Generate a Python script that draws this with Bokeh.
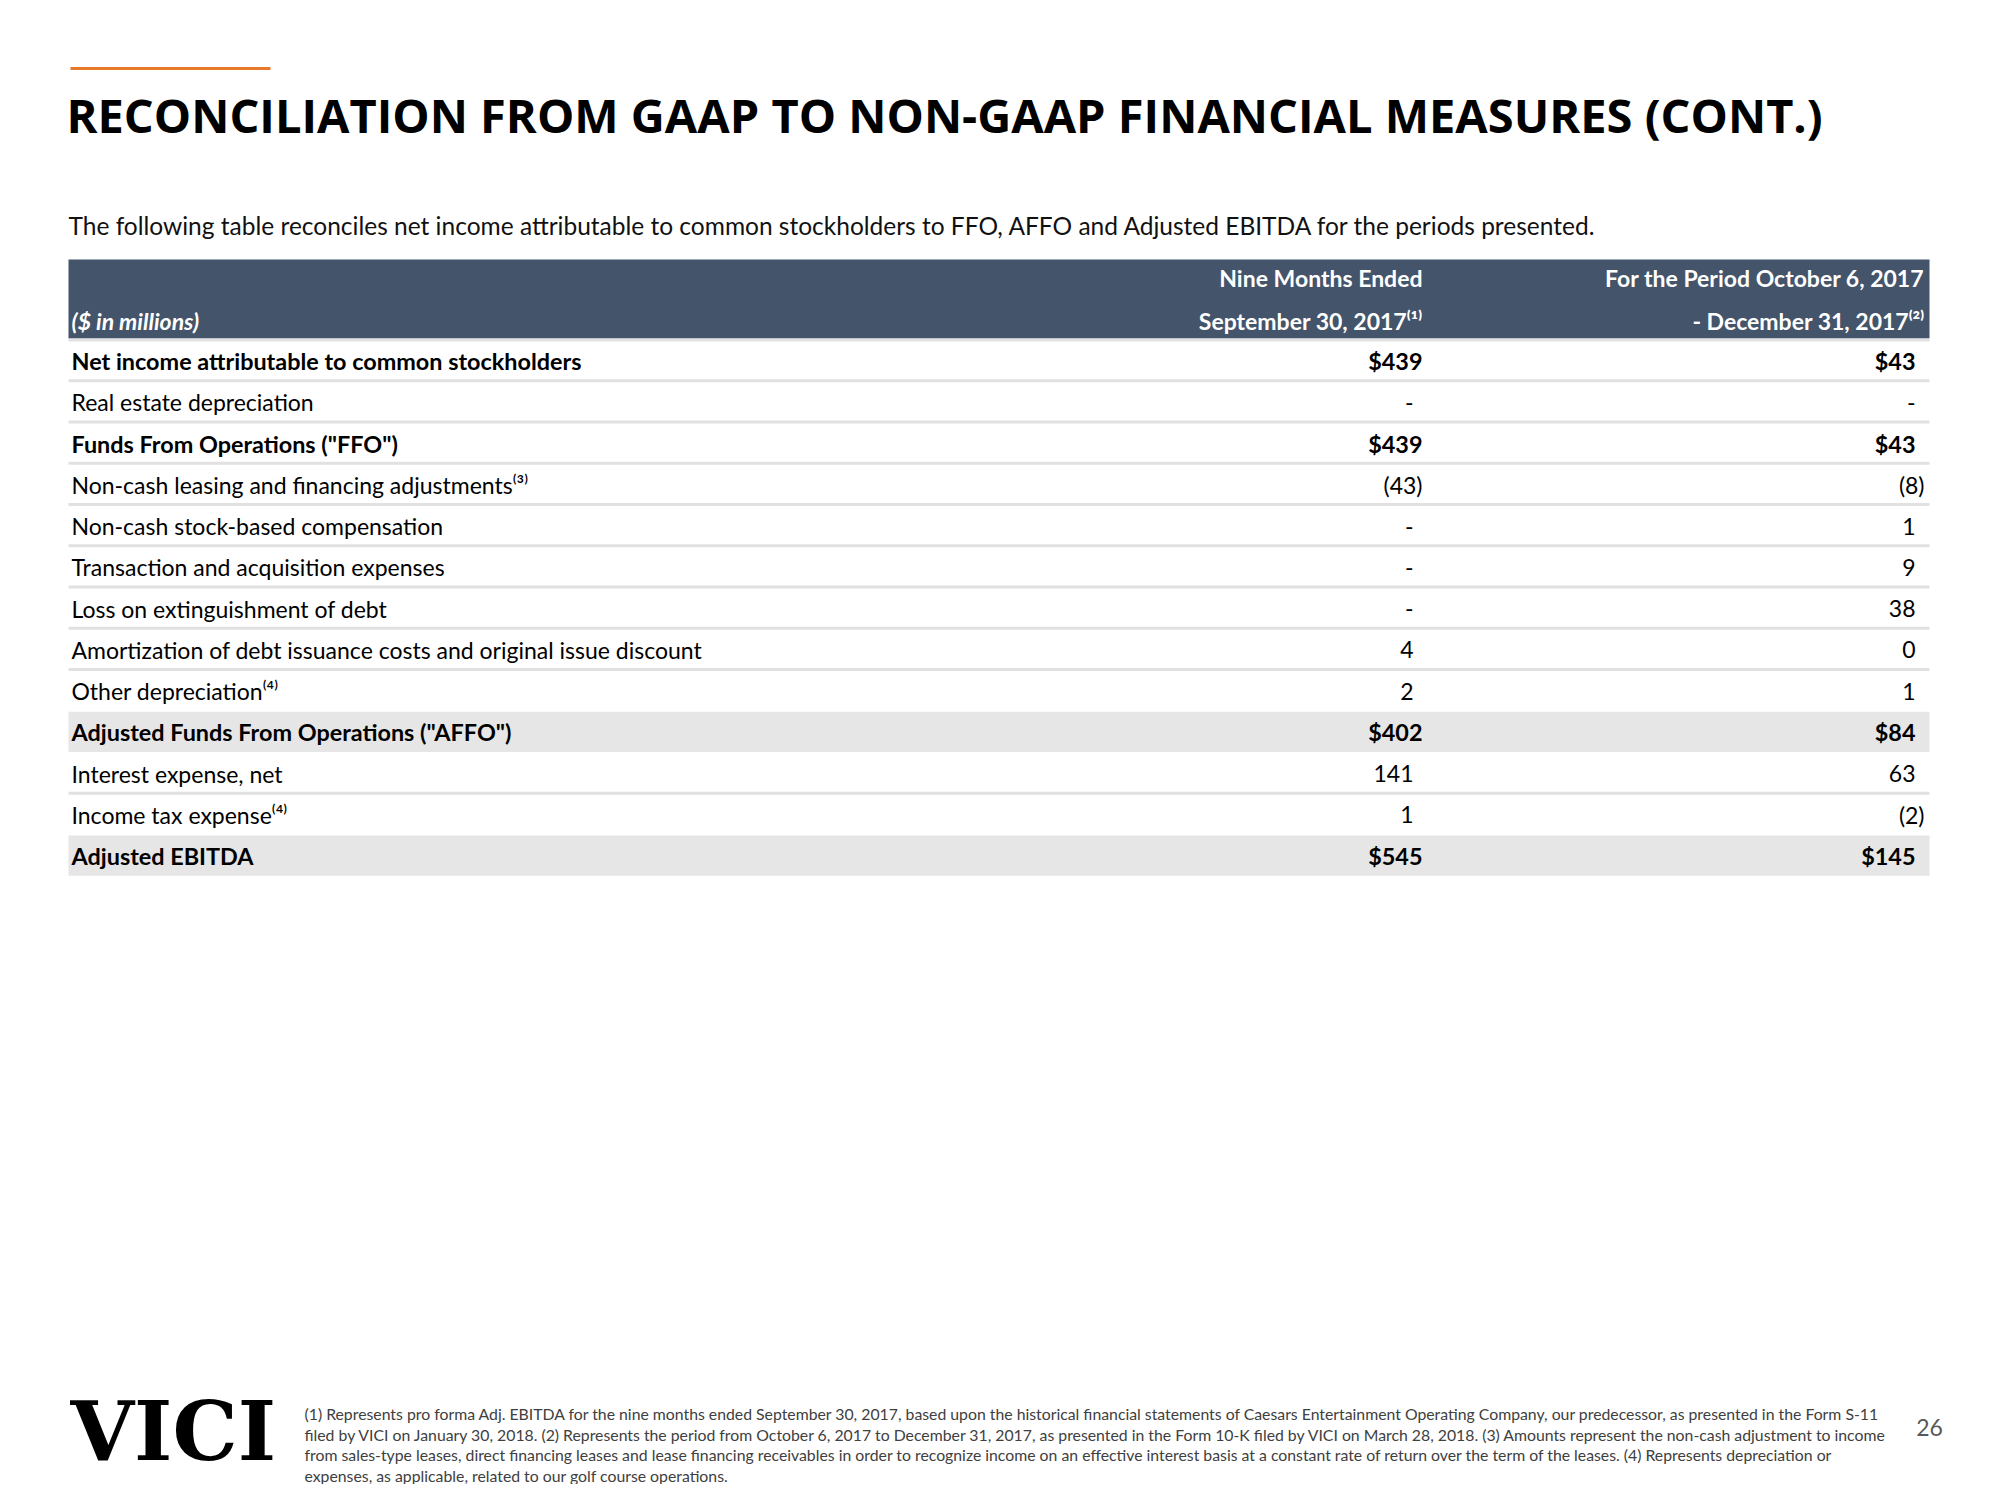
from bokeh.plotting import figure
from bokeh.models import Range1d, ColumnDataSource
from bokeh.embed import file_html
from bokeh.resources import INLINE
from bokeh.core.properties import value

# ---------------- data ----------------
title = "RECONCILIATION FROM GAAP TO NON-GAAP FINANCIAL MEASURES (CONT.)"
subtitle = ("The following table reconciles net income attributable to common stockholders "
            "to FFO, AFFO and Adjusted EBITDA for the periods presented.")
unit_label = "($ in millions)"
col1_header = ["Nine Months Ended", "September 30, 2017\u207d\u00b9\u207e"]
col2_header = ["For the Period October 6, 2017", "- December 31, 2017\u207d\u00b2\u207e"]

row_labels = [
    "Net income attributable to common stockholders",
    "Real estate depreciation",
    "Funds From Operations (\"FFO\")",
    "Non-cash leasing and financing adjustments\u207d\u00b3\u207e",
    "Non-cash stock-based compensation",
    "Transaction and acquisition expenses",
    "Loss on extinguishment of debt",
    "Amortization of debt issuance costs and original issue discount",
    "Other depreciation\u207d\u2074\u207e",
    "Adjusted Funds From Operations (\"AFFO\")",
    "Interest expense, net",
    "Income tax expense\u207d\u2074\u207e",
    "Adjusted EBITDA",
]
nine_months = ["$439", "-", "$439", "(43)", "-", "-", "-", "4", "2", "$402", "141", "1", "$545"]
period_q4 = ["$43", "-", "$43", "(8)", "1", "9", "38", "0", "1", "$84", "63", "(2)", "$145"]
bold_rows = [True, False, True, False, False, False, False, False, False, True, False, False, True]
shaded_rows = [False, False, False, False, False, False, False, False, False, True, False, False, True]

footnotes = [
    "(1) Represents pro forma Adj. EBITDA for the nine months ended September 30, 2017, based upon the historical financial statements of Caesars Entertainment Operating Company, our predecessor, as presented in the Form S-11",
    "filed by VICI on January 30, 2018. (2) Represents the period from October 6, 2017 to December 31, 2017, as presented in the Form 10-K filed by VICI on March 28, 2018. (3) Amounts represent the non-cash adjustment to income",
    "from sales-type leases, direct financing leases and lease financing receivables in order to recognize income on an effective interest basis at a constant rate of return over the term of the leases. (4) Represents depreciation or",
    "expenses, as applicable, related to our golf course operations.",
]
logo = "VICI"
page_no = "26"

# ---------------- styles ----------------
FONT = "Lato"
HEADER_BG = "#44546A"
SHADE = "#E6E6E6"
SEP = "#E1E1E1"
ORANGE = "#E8792B"

W, H = 1984, 1484
p = figure(width=W, height=H, x_range=Range1d(0, W), y_range=Range1d(H, 0),
           output_backend="svg", toolbar_location=None, min_border=0)
p.axis.visible = False
p.grid.visible = False
p.outline_line_color = None
p.background_fill_color = "white"
p.border_fill_color = "white"

# orange accent line
p.segment(x0=[70], y0=[68], x1=[270], y1=[68], line_color=ORANGE, line_width=3)

# title and subtitle
p.text(x=[66], y=[114], text=[title], text_font=value("Open Sans"), text_font_style="bold",
       text_font_size="47px", text_color="#000000", text_baseline="middle")
p.text(x=[68], y=[225], text=[subtitle], text_font=value(FONT), text_font_size="24.5px",
       text_color="#111111", text_baseline="middle")

# table geometry
TL, TR = 68, 1929
HEAD_TOP, HEAD_BOT = 259, 338
ROW_H = 41.25
ROW0 = 339
R1, R2 = 1422, 1924
LBL_X = 71

p.quad(left=[TL], right=[TR], top=[HEAD_TOP], bottom=[HEAD_BOT], fill_color=HEADER_BG, line_color=None)

n = len(row_labels)
tops = [ROW0 + i * ROW_H for i in range(n)]
bots = [t + ROW_H for t in tops]
centers = [t + ROW_H / 2 + 1 for t in tops]

sh_idx = [i for i in range(n) if shaded_rows[i]]
p.quad(left=[TL] * len(sh_idx), right=[TR] * len(sh_idx), top=[tops[i] + 1 for i in sh_idx],
       bottom=[bots[i] for i in sh_idx], fill_color=SHADE, line_color=None)

sep_idx = [i for i in range(n - 1) if not shaded_rows[i] and not shaded_rows[i + 1]]
p.segment(x0=[TL] * len(sep_idx), x1=[TR] * len(sep_idx), y0=[bots[i] for i in sep_idx],
          y1=[bots[i] for i in sep_idx], line_color=SEP, line_width=3)
p.segment(x0=[TL], x1=[TR], y0=[HEAD_BOT + 1.5], y1=[HEAD_BOT + 1.5], line_color=SEP, line_width=3)

# header texts
p.text(x=[R1, R2], y=[277, 277], text=[col1_header[0], col2_header[0]], text_font=value(FONT),
       text_font_style="bold", text_font_size="23px", text_color="white",
       text_align="right", text_baseline="middle")
p.text(x=[R1, R2], y=[320, 320], text=[col1_header[1], col2_header[1]], text_font=value(FONT),
       text_font_style="bold", text_font_size="23px", text_color="white",
       text_align="right", text_baseline="middle")
p.text(x=[LBL_X], y=[320], text=[unit_label], text_font=value(FONT), text_font_style="bold italic",
       text_font_size="23px", text_color="white", text_baseline="middle")


def val_x(v, right, bold, first_col):
    if v.startswith("("):
        return right
    if bold and first_col:
        return right
    return right - 9


for bold in (True, False):
    idx = [i for i in range(n) if bold_rows[i] == bold]
    src = ColumnDataSource(dict(
        y=[centers[i] for i in idx],
        lbl=[row_labels[i] for i in idx],
        v1=[nine_months[i] for i in idx],
        v2=[period_q4[i] for i in idx],
        x1=[val_x(nine_months[i], R1, bold, True) for i in idx],
        x2=[val_x(period_q4[i], R2, bold, False) for i in idx],
    ))
    style = "bold" if bold else "normal"
    fs = "23.4px" if bold else "23px"
    p.text(x=LBL_X, y="y", text="lbl", source=src, text_font=value(FONT), text_font_style=style,
           text_font_size=fs, text_color="#000000", text_baseline="middle")
    p.text(x="x1", y="y", text="v1", source=src, text_font=value(FONT), text_font_style=style,
           text_font_size=fs, text_color="#000000", text_baseline="middle", text_align="right")
    p.text(x="x2", y="y", text="v2", source=src, text_font=value(FONT), text_font_style=style,
           text_font_size=fs, text_color="#000000", text_baseline="middle", text_align="right")

# footer
p.text(x=[70], y=[1430], text=[logo], text_font=value("DejaVu Serif"), text_font_style="bold",
       text_font_size="82px", text_color="#000000", text_baseline="middle")
p.text(x=[304] * len(footnotes), y=[1413 + 20.7 * i for i in range(len(footnotes))], text=footnotes,
       text_font=value(FONT), text_font_size="15.8px", text_color="#404040", text_baseline="middle")
p.text(x=[1929], y=[1427], text=[page_no], text_font=value(FONT), text_font_size="23px",
       text_color="#595959", text_baseline="middle", text_align="center")

open("out.html", "w").write(file_html(p, INLINE))
